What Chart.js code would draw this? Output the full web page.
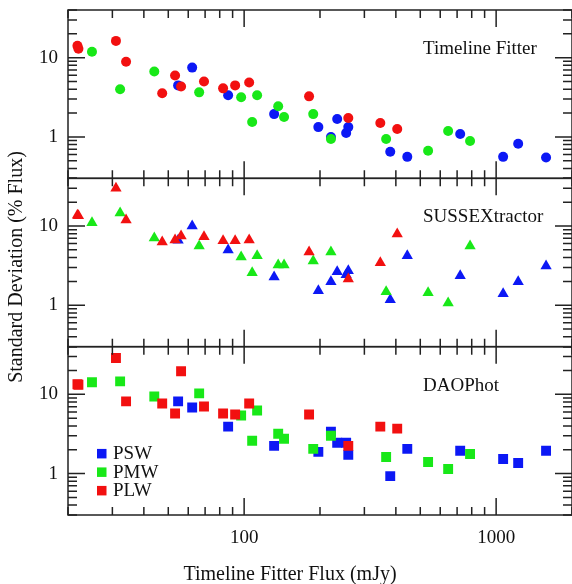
<!DOCTYPE html>
<html>
<head>
<meta charset="utf-8">
<script src="https://cdn.jsdelivr.net/npm/chart.js@4.4.1/dist/chart.umd.min.js"></script>
<style>
  html, body { margin: 0; padding: 0; background: #fff; }
  #wrap { position: relative; width: 572px; height: 584px; }
</style>
</head>
<body>
<div id="wrap"><canvas id="chart" width="572" height="584"></canvas></div>
<script>
// axis ticks (log scales)
const X_TICKS = [20, 30, 40, 50, 60, 70, 80, 90, 100, 200, 300, 400, 500, 600, 700, 800, 900, 1000, 2000];
const Y_TICKS = [0.3, 0.4, 0.5, 0.6, 0.7, 0.8, 0.9, 1, 2, 3, 4, 5, 6, 7, 8, 9, 10, 20, 30, 40];
const X_LABELS = [100, 1000];
const Y_LABELS = [1, 10];

const PANELS = ['Timeline Fitter', 'SUSSEXtractor', 'DAOPhot'];
const BANDS = ['PSW', 'PMW', 'PLW'];
const COLORS = ['rgb(12,24,245)', 'rgb(24,232,24)', 'rgb(242,16,16)'];

// Timeline Fitter flux of each source (mJy)
const PSW_FLUX = [54.7, 62.2, 86.4, 131.5, 197, 221, 234, 254, 259, 380, 444, 720, 1066, 1223, 1578];
const PMW_FLUX = [24.9, 32.2, 44, 66.3, 97.3, 107.6, 112.6, 136.5, 144, 188, 221, 366, 537, 645, 788];
const PLW_FLUX = [21.8, 22.0, 31, 34, 47.3, 53.2, 56.2, 69.3, 82.5, 92.1, 104.7, 181, 259, 347, 405];

// standard deviation (% flux) - Timeline Fitter
const TF_PSW = [4.47, 7.5, 3.35, 1.94, 1.33, 1.0, 1.68, 1.12, 1.33, 0.65, 0.56, 1.09, 0.56, 0.82, 0.55];
const TF_PMW = [11.9, 4.0, 6.7, 3.65, 3.16, 1.54, 3.35, 2.44, 1.78, 1.94, 0.94, 0.94, 0.67, 1.19, 0.89];
const TF_PLW = [14.1, 13.0, 16.3, 8.9, 3.55, 5.96, 4.34, 5.0, 4.1, 4.47, 4.87, 3.25, 1.73, 1.50, 1.26];

// SUSSEXtractor
const SX_PSW = [6.6, 10.0, 4.99, 2.28, 1.52, 1.98, 2.64, 2.42, 2.72, 1.17, 4.2, 2.35, 1.40, 1.98, 3.14];
const SX_PMW = [11.0, 14.6, 7.06, 5.6, 4.07, 2.57, 4.2, 3.23, 3.23, 3.63, 4.71, 1.48, 1.44, 1.07, 5.6];
const SX_PLW = [13.7, 13.5, 30, 11.9, 6.29, 6.67, 7.48, 7.3, 6.5, 6.5, 6.67, 4.71, 2.15, 3.43, 7.94];

// DAOPhot
const DAO_PSW = [8.15, 6.83, 3.91, 2.24, 1.88, 3.38, 2.45, 2.45, 1.72, 0.93, 2.05, 1.94, 1.53, 1.36, 1.94];
const DAO_PMW = [14.2, 14.6, 9.4, 10.3, 5.4, 2.6, 6.25, 3.18, 2.75, 2.05, 3.0, 1.62, 1.40, 1.14, 1.77];
const DAO_PLW = [13.4, 13.2, 28.8, 8.15, 7.68, 5.73, 19.6, 7.03, 5.73, 5.56, 7.68, 5.56, 2.24, 3.91, 3.69];

const FLUX = [PSW_FLUX, PMW_FLUX, PLW_FLUX];
const VALUES = [
  [TF_PSW, TF_PMW, TF_PLW],
  [SX_PSW, SX_PMW, SX_PLW],
  [DAO_PSW, DAO_PMW, DAO_PLW]
];
const MARKERS = [['circle', 5], ['triangle', 6.5], ['rect', 7]];

const SERIF = '"Liberation Serif", "DejaVu Serif", serif';

const datasets = [];
PANELS.forEach((panel, i) => {
  BANDS.forEach((band, j) => {
    datasets.push({
      label: panel + ' ' + band,
      data: FLUX[j].map((x, k) => ({ x: x, y: VALUES[i][j][k] })),
      yAxisID: 'y' + (i + 1),
      pointStyle: MARKERS[i][0],
      pointRadius: MARKERS[i][1],
      pointBorderWidth: 0,
      backgroundColor: COLORS[j],
      borderColor: COLORS[j],
      order: 3 - j
    });
  });
});

function yAxis() {
  return {
    type: 'logarithmic',
    min: 0.3, max: 40,
    position: 'left',
    stack: 'panels',
    stackWeight: 1,
    afterBuildTicks: s => { s.ticks = Y_TICKS.map(v => ({ value: v })); },
    afterFit: s => { s.width = 30; s.paddingTop = 0; s.paddingBottom = 0; },
    grid: { display: false, drawTicks: false },
    border: { display: false },
    ticks: {
      autoSkip: false,
      padding: 10,
      color: '#111',
      font: { family: SERIF, size: 19 },
      callback: v => Y_LABELS.includes(v) ? String(v) : ''
    }
  };
}

// frame, inward ticks, panel names, legend and axis titles
const framePlugin = {
  id: 'frame',
  afterDatasetsDraw(chart) {
    const { ctx } = chart;
    const { left, right } = chart.chartArea;
    const xs = chart.scales.x;
    ctx.save();
    ctx.strokeStyle = '#222';
    ctx.lineWidth = 1.5;
    ctx.fillStyle = '#111';
    PANELS.forEach((name, i) => {
      const ys = chart.scales['y' + (i + 1)];
      const top = ys.top, bottom = ys.bottom;
      ctx.strokeRect(left, top, right - left, bottom - top);
      ctx.beginPath();
      ys.ticks.forEach(t => {
        const py = ys.getPixelForValue(t.value);
        const len = Y_LABELS.includes(t.value) ? 17 : 9;
        ctx.moveTo(left, py); ctx.lineTo(left + len, py);
        ctx.moveTo(right, py); ctx.lineTo(right - len, py);
      });
      xs.ticks.forEach(t => {
        const px = xs.getPixelForValue(t.value);
        const len = X_LABELS.includes(t.value) ? 17 : 8;
        ctx.moveTo(px, top); ctx.lineTo(px, top + len);
        ctx.moveTo(px, bottom); ctx.lineTo(px, bottom - len);
      });
      ctx.stroke();
      ctx.font = '19px ' + SERIF;
      ctx.textAlign = 'left';
      ctx.textBaseline = 'alphabetic';
      ctx.fillText(name, 423, top + 44);
    });

    // legend in the bottom panel
    const y3 = chart.scales.y3;
    ctx.font = '19px ' + SERIF;
    ctx.textBaseline = 'middle';
    BANDS.forEach((band, j) => {
      const cy = y3.top + 107 + j * 18.5;
      ctx.fillStyle = COLORS[j];
      ctx.fillRect(97, cy - 4.75, 9.5, 9.5);
      ctx.fillStyle = '#111';
      ctx.fillText(band, 113, cy + 0.5);
    });

    // axis titles
    ctx.font = '20px ' + SERIF;
    ctx.textAlign = 'center';
    ctx.fillText('Timeline Fitter Flux (mJy)', 290, 575);
    ctx.translate(17, 267);
    ctx.rotate(-Math.PI / 2);
    ctx.fillText('Standard Deviation (% Flux)', 0, 0);
    ctx.restore();
  }
};

new Chart(document.getElementById('chart'), {
  type: 'scatter',
  data: { datasets: datasets },
  options: {
    responsive: false,
    animation: false,
    devicePixelRatio: 1,
    layout: { autoPadding: false, padding: { left: 38, right: 0, top: 10, bottom: 0 } },
    plugins: { legend: { display: false }, tooltip: { enabled: false } },
    scales: {
      x: {
        type: 'logarithmic',
        min: 20, max: 2000,
        position: 'bottom',
        afterBuildTicks: s => { s.ticks = X_TICKS.map(v => ({ value: v })); },
        afterFit: s => { s.height = 69; s.paddingLeft = 0; s.paddingRight = 0; },
        grid: { display: false, drawTicks: false },
        border: { display: false },
        ticks: {
          autoSkip: false,
          maxRotation: 0,
          padding: 12,
          color: '#111',
          font: { family: SERIF, size: 19 },
          callback: v => X_LABELS.includes(v) ? String(v) : ''
        }
      },
      // stacked left axes are laid out last-defined on top
      y3: yAxis(),
      y2: yAxis(),
      y1: yAxis()
    }
  },
  plugins: [framePlugin]
});
</script>
</body>
</html>
